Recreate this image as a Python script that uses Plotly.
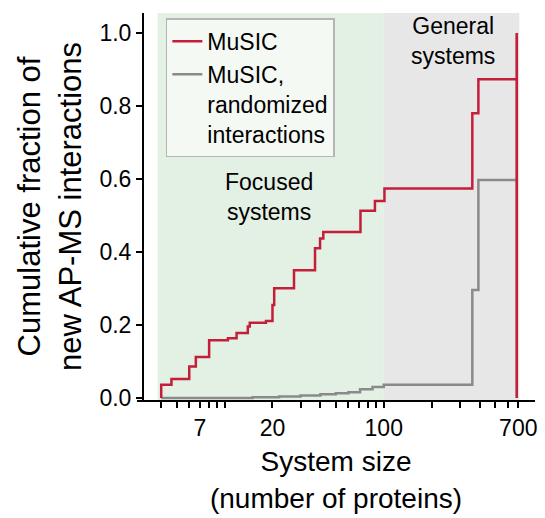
import plotly.graph_objects as go

# ---- data ----
music_x = [4.0, 4.0, 4.64, 6.0, 6.6, 8.0, 10.5, 11.9, 14.0, 14.4, 18.2, 20.0, 20.5,
           27.3, 37, 39.8, 41.7, 71.4, 88, 101, 360, 393, 685, 685]
music_y = [0, 0.036, 0.052, 0.086, 0.112, 0.158, 0.164, 0.178, 0.196, 0.206, 0.211,
           0.255, 0.301, 0.350, 0.410, 0.437, 0.455, 0.513, 0.540, 0.574, 0.780,
           0.873, 1.0, 0]

rand_x = [4.0, 15, 22, 30, 40, 50, 60, 71, 85, 100, 360, 393, 685, 685]
rand_y = [0, 0.002, 0.004, 0.007, 0.010, 0.013, 0.016, 0.024, 0.030, 0.036,
          0.296, 0.597, 1.0, 0]

tick_vals = [4, 5, 6, 7, 8, 9, 10, 20, 30, 40, 50, 60, 70, 80, 90, 100,
             200, 300, 400, 500, 600, 700]
tick_labels = {7: "7", 20: "20", 100: "100", 700: "700"}

focused_range = [3.8, 100]
general_range = [100, 710]

FONT = "Arial, Liberation Sans, sans-serif"
RED = "#C41E3A"
GREY = "#8A8A8A"

fig = go.Figure()

fig.add_trace(go.Scatter(x=rand_x, y=rand_y, mode="lines", line_shape="hv",
                         line=dict(color=GREY, width=2.5),
                         name="MuSIC,<br>randomized<br>interactions", legendrank=2))
fig.add_trace(go.Scatter(x=music_x, y=music_y, mode="lines", line_shape="hv",
                         line=dict(color=RED, width=2.5),
                         name="MuSIC", legendrank=1))

fig.add_vrect(x0=focused_range[0], x1=focused_range[1], fillcolor="#E3F0E4",
              line_width=0, layer="below")
fig.add_vrect(x0=general_range[0], x1=general_range[1], fillcolor="#E7E7E7",
              line_width=0, layer="below")

fig.add_annotation(x=1.281, y=0.55, xref="x", yref="y", text="Focused<br>systems",
                   showarrow=False, font=dict(size=23, color="black", family=FONT))
fig.add_annotation(x=2.4375, y=0.978, xref="x", yref="y", text="General<br>systems",
                   showarrow=False, font=dict(size=23, color="black", family=FONT))

fig.update_layout(
    width=545, height=518,
    margin=dict(l=137, r=8, t=13, b=118),
    paper_bgcolor="white", plot_bgcolor="white",
    font=dict(family=FONT, size=23, color="black"),
    showlegend=True,
    legend=dict(x=0.0725, y=0.986, xanchor="left", yanchor="top", valign="top",
                bgcolor="rgba(255,255,255,0.6)", bordercolor="#B5B5B5",
                borderwidth=1.5, font=dict(size=23, family=FONT),
                tracegroupgap=0, itemwidth=30),
    xaxis=dict(type="log", range=[0.45, 2.95], showgrid=False, zeroline=False,
               showline=True, linecolor="black", linewidth=2,
               ticks="outside", ticklen=6, tickwidth=2, tickcolor="black",
               tickvals=tick_vals,
               ticktext=[tick_labels.get(v, "") for v in tick_vals],
               tickfont=dict(size=23, family=FONT),
               title=dict(text="System size<br>(number of proteins)",
                          font=dict(size=28, family=FONT), standoff=12)),
    yaxis=dict(range=[-0.0055, 1.0548], showgrid=False, zeroline=False,
               showline=True, linecolor="black", linewidth=2,
               anchor="free", position=0.015,
               ticks="outside", ticklen=6, tickwidth=2, tickcolor="black",
               tickvals=[0, 0.2, 0.4, 0.6, 0.8, 1.0], tickformat=".1f",
               tickfont=dict(size=23, family=FONT),
               title=dict(text="Cumulative fraction of<br>new AP-MS interactions",
                          font=dict(size=31, family=FONT), standoff=8)),
)

fig.write_html("out.html")
